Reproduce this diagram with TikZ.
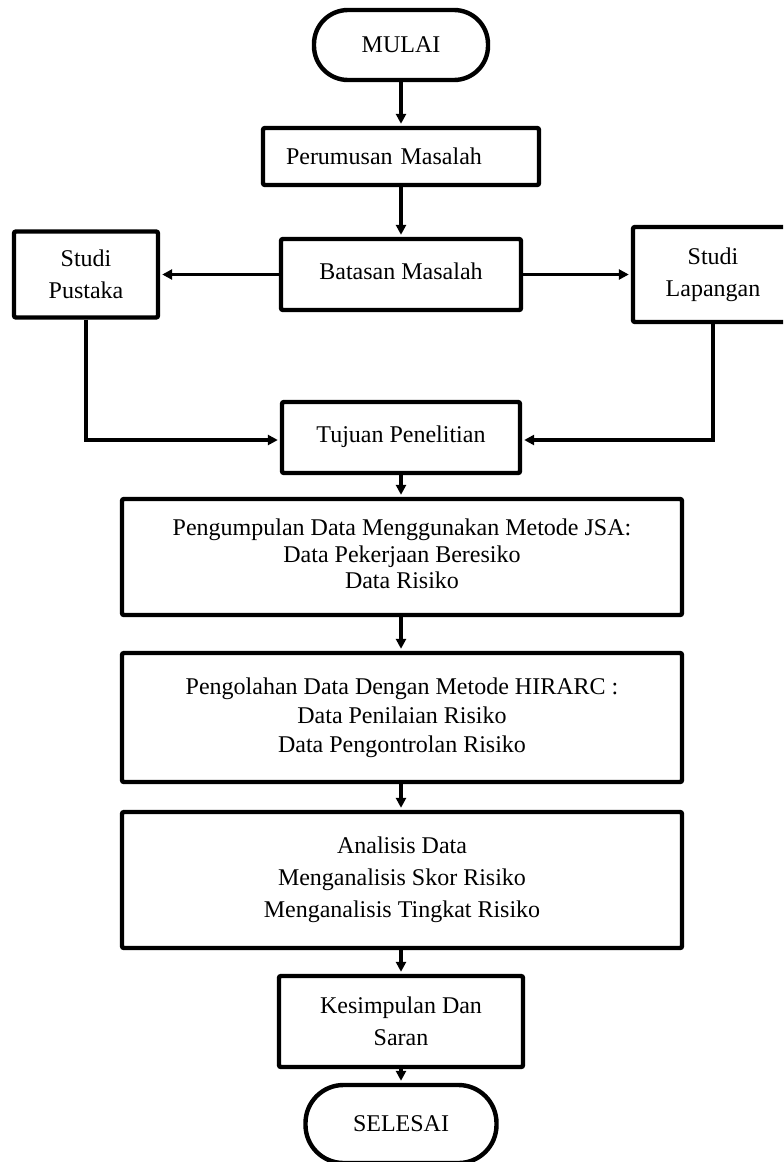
\documentclass[tikz,border=0pt]{standalone}
\usepackage{fontspec}
\setmainfont{Liberation Serif}
\usetikzlibrary{arrows.meta}
\begin{document}
\begin{tikzpicture}[x=0.5pt,y=-0.5pt,
  box/.style={draw, line width=2.2pt, rounded corners=1pt, align=center,
    font=\fontsize{12}{16}\selectfont, inner sep=0pt},
  term/.style={draw, line width=2.2pt, align=center,
    font=\fontsize{12}{16}\selectfont, inner sep=0pt},
  arr/.style={line width=1.6pt, -{Triangle[length=5pt,width=5pt]}, shorten >=1pt}]
\useasboundingbox (0,0) rectangle (783,1162);
\fill[white] (0,0) rectangle (783,1162);
\clip (0,0) rectangle (783,1162);

\node[term, rounded corners=17pt, minimum width=87pt, minimum height=35pt] (mulai) at (401,45) {MULAI};
\node[box, minimum width=138pt, minimum height=28.5pt, text width=115pt, align=left, inner xsep=11.5pt] (rumus) at (401,156.5) {Perumusan Masalah};
\node[box, minimum width=120pt, minimum height=35.5pt] (batas) at (401,274.5) {\raisebox{3.75pt}{Batasan Masalah}};
\node[box, minimum width=72pt, minimum height=43pt] (pustaka) at (86,274.5) {Studi\\Pustaka};
\node[box, minimum width=80pt, minimum height=47.5pt] (lapangan) at (713,274.5) {Studi\\Lapangan};
\node[box, minimum width=119pt, minimum height=35.5pt] (tujuan) at (401,437.5) {\raisebox{3.75pt}{Tujuan Penelitian}};
\node[box, minimum width=280pt, minimum height=58pt, font=\fontsize{12}{13.25}\selectfont] (kumpul) at (402,557)
  {\raisebox{1.5pt}{\begin{tabular}{@{}c@{}}Pengumpulan Data Menggunakan Metode JSA:\\Data Pekerjaan Beresiko\\Data Risiko\end{tabular}}};
\node[box, minimum width=280pt, minimum height=64.5pt, font=\fontsize{12}{14.5}\selectfont] (olah) at (402,717.5)
  {Pengolahan Data Dengan Metode HIRARC :\\Data Penilaian Risiko\\Data Pengontrolan Risiko};
\node[box, minimum width=280pt, minimum height=68pt] (analisis) at (402,880)
  {Analisis Data\\Menganalisis Skor Risiko\\Menganalisis Tingkat Risiko};
\node[box, minimum width=122pt, minimum height=45.5pt] (simpul) at (401,1021.5) {Kesimpulan Dan\\Saran};
\node[term, rounded corners=19pt, minimum width=95.5pt, minimum height=39pt] (selesai) at (401,1124) {SELESAI};

\draw[arr] (mulai) -- (rumus);
\draw[arr] (rumus) -- (batas);
\draw[arr] (batas.west) -- (pustaka.east);
\draw[arr] (batas.east) -- (lapangan.west);
\draw[arr] (pustaka.south) |- ([yshift=-1.25pt]tujuan.west);
\draw[arr] (lapangan.south) |- ([yshift=-1.25pt]tujuan.east);
\draw[arr] (tujuan.south) -- (tujuan.south |- kumpul.north);
\draw[arr] (tujuan.south |- kumpul.south) -- (tujuan.south |- olah.north);
\draw[arr] (tujuan.south |- olah.south) -- (tujuan.south |- analisis.north);
\draw[arr] (tujuan.south |- analisis.south) -- (simpul.north);
\draw[arr] (simpul) -- (selesai);
\end{tikzpicture}
\end{document}
